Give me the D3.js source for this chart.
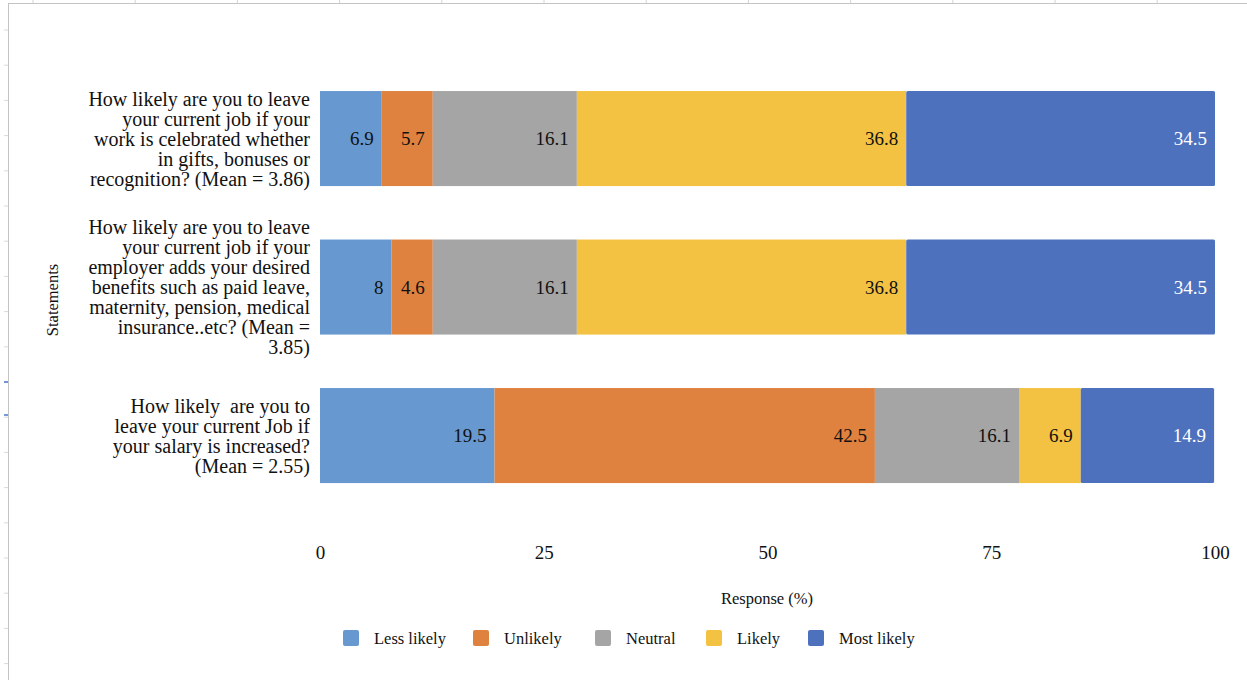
<!DOCTYPE html>
<html>
<head>
<meta charset="utf-8">
<script src="https://cdn.jsdelivr.net/npm/d3@7"></script>
<style>
  body { margin: 0; background: #fff; }
  svg { display: block; font-family: "Liberation Serif", "Times New Roman", serif; }
  text { white-space: pre; }
</style>
</head>
<body>
<div id="chart"></div>
<script>
// categories (label lines as wrapped in the chart)
const statements = ["work", "benefits", "salary"];
const statementLines = [
  ["How likely are you to leave", "your current job if your", "work is celebrated whether", "in gifts, bonuses or", "recognition? (Mean = 3.86)"],
  ["How likely are you to leave", "your current job if your", "employer adds your desired", "benefits such as paid leave,", "maternity, pension, medical", "insurance..etc? (Mean =", "3.85)"],
  ["How likely  are you to", "leave your current Job if", "your salary is increased?", "(Mean = 2.55)"]
];
const responses = ["Less likely", "Unlikely", "Neutral", "Likely", "Most likely"];
const lessLikely = [6.9, 8, 19.5];
const unlikely = [5.7, 4.6, 42.5];
const neutral = [16.1, 16.1, 16.1];
const likely = [36.8, 36.8, 6.9];
const mostLikely = [34.5, 34.5, 14.9];
const xTicks = [0, 25, 50, 75, 100];
const colors = ["#6799d0", "#e0823f", "#a5a5a5", "#f4c243", "#4e71be"];

const W = 1247, H = 680;
const svg = d3.select("#chart").append("svg").attr("width", W).attr("height", H);

// spreadsheet backdrop
const bg = svg.append("g").attr("class", "sheet");
d3.range(33, W, 102.2).forEach(x => {
  bg.append("line").attr("x1", x).attr("x2", x).attr("y1", 0).attr("y2", 3)
    .attr("stroke", "#d4d4d4");
});
d3.range(30, H, 35.2).forEach(y => {
  bg.append("line").attr("x1", 4).attr("x2", 8).attr("y1", y).attr("y2", y)
    .attr("stroke", "#dadada");
});
[382, 415].forEach(y => {
  bg.append("line").attr("x1", 4).attr("x2", 8).attr("y1", y).attr("y2", y)
    .attr("stroke", "#4a78c8").attr("stroke-width", 1.5);
});
bg.append("line").attr("x1", 8.5).attr("x2", 8.5).attr("y1", 3).attr("y2", H).attr("stroke", "#c4c4c4");
bg.append("line").attr("x1", 8).attr("x2", W).attr("y1", 3.5).attr("y2", 3.5).attr("stroke", "#c4c4c4");

// data table
const rows = statements.map((s, i) => ({
  key: s,
  "Less likely": lessLikely[i],
  "Unlikely": unlikely[i],
  "Neutral": neutral[i],
  "Likely": likely[i],
  "Most likely": mostLikely[i]
}));
const stacked = d3.stack().keys(responses)(rows);

const x = d3.scaleLinear().domain([0, 100]).range([320, 1215]);
const y = d3.scaleBand().domain(statements).range([64.3, 509.8])
  .paddingInner(0.36).paddingOuter(0.18);
const color = d3.scaleOrdinal().domain(responses).range(colors);

// bars
const layers = svg.append("g").selectAll("g")
  .data(stacked)
  .join("g")
  .attr("fill", d => color(d.key));

layers.selectAll("rect")
  .data(d => d.map(v => ({ v, key: d.key })))
  .join("rect")
  .attr("x", d => x(d.v[0]))
  .attr("y", d => y(d.v.data.key))
  .attr("width", d => x(d.v[1]) - x(d.v[0]))
  .attr("height", y.bandwidth())
  .attr("rx", d => d.key === "Most likely" ? 1.5 : 0);

// value labels
layers.selectAll("text")
  .data(d => d.map(v => ({ v, key: d.key })))
  .join("text")
  .attr("x", d => x(d.v[1]) - 8)
  .attr("y", d => y(d.v.data.key) + y.bandwidth() / 2)
  .attr("dy", "0.35em")
  .attr("text-anchor", "end")
  .attr("font-size", 19)
  .attr("fill", d => d.key === "Most likely" ? "#ffffff" : "#111")
  .text(d => d.v.data[d.key]);

// category labels
const lineH = 20;
const cat = svg.append("g").selectAll("text")
  .data(statements)
  .join("text")
  .attr("text-anchor", "end")
  .attr("font-size", 20)
  .attr("fill", "#111");
cat.each(function(s, i) {
  const lines = statementLines[i];
  const cy = y(s) + y.bandwidth() / 2 - (lines.length - 1) * lineH / 2;
  d3.select(this).selectAll("tspan")
    .data(lines)
    .join("tspan")
    .attr("x", 310)
    .attr("y", (l, j) => cy + j * lineH)
    .attr("dy", "0.35em")
    .text(l => l);
});

// x axis
const xAxis = svg.append("g")
  .attr("transform", "translate(0,535)")
  .call(d3.axisBottom(x).tickValues(xTicks).tickSize(0).tickPadding(11));
xAxis.select(".domain").remove();
xAxis.selectAll("text")
  .attr("font-family", "Liberation Serif, serif")
  .attr("font-size", 19)
  .attr("fill", "#111");

// axis titles
svg.append("text")
  .attr("x", 767).attr("y", 598).attr("dy", "0.35em")
  .attr("text-anchor", "middle").attr("font-size", 16.5).attr("fill", "#111")
  .text("Response (%)");

svg.append("text")
  .attr("transform", "translate(52,300) rotate(-90)")
  .attr("dy", "0.35em")
  .attr("text-anchor", "middle").attr("font-size", 16.5).attr("fill", "#111")
  .text("Statements");

// legend
const legendX = [343, 473, 595, 706, 808];
const legend = svg.append("g").selectAll("g")
  .data(responses)
  .join("g")
  .attr("transform", (d, i) => `translate(${legendX[i]},638)`);
legend.append("rect")
  .attr("x", 0).attr("y", -8).attr("width", 16).attr("height", 16).attr("rx", 2)
  .attr("fill", d => color(d));
legend.append("text")
  .attr("x", 31).attr("dy", "0.35em")
  .attr("font-size", 16.5).attr("fill", "#111")
  .text(d => d);
</script>
</body>
</html>
